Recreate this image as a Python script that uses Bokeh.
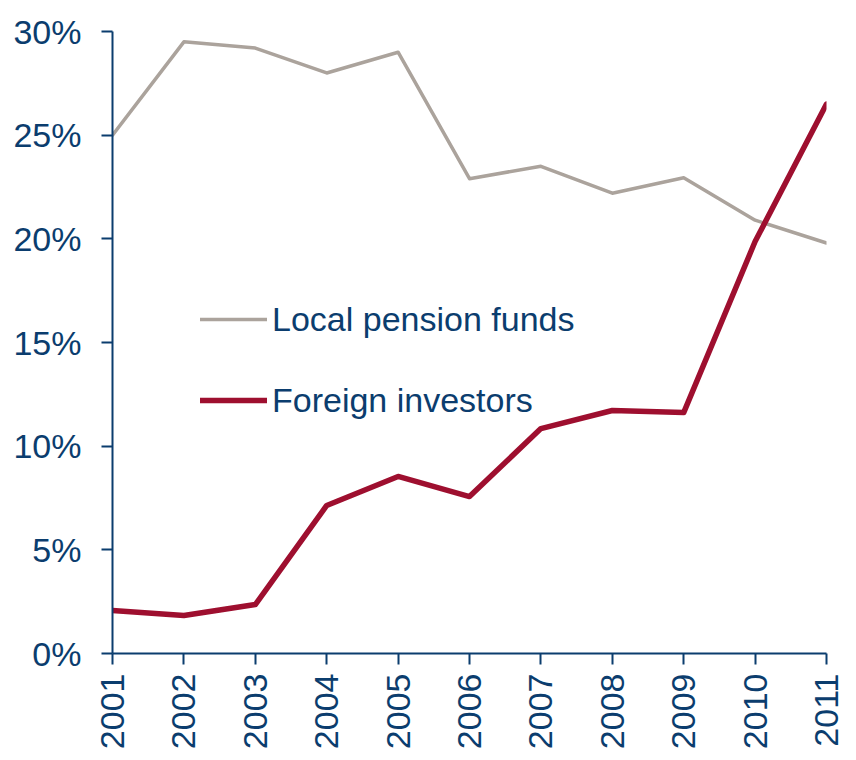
import math
from bokeh.plotting import figure
from bokeh.models import Legend, LegendItem, FixedTicker, Range1d
from bokeh.embed import file_html
from bokeh.resources import INLINE

years = [2001, 2002, 2003, 2004, 2005, 2006, 2007, 2008, 2009, 2010, 2011]
local_pension = [25.0, 29.5, 29.2, 28.0, 29.0, 22.9, 23.5, 22.2, 22.95, 20.9, 19.8]
foreign_investors = [2.07, 1.83, 2.36, 7.14, 8.54, 7.57, 10.85, 11.72, 11.62, 19.87, 26.5]
y_ticks = [0, 5, 10, 15, 20, 25, 30]

NAVY = "#0B3D6E"
GRAY = "#ABA39C"
RED = "#9E0F2F"
FONT = "Liberation Sans"

W, H = 848, 752
p = figure(width=W, height=H, output_backend="svg", toolbar_location=None,
           x_range=Range1d(2001, 2011), y_range=Range1d(0, 30),
           min_border_left=112, min_border_right=W - 826,
           min_border_top=31, min_border_bottom=H - 653)
p.outline_line_color = None
p.grid.grid_line_color = None
p.background_fill_color = "white"
p.border_fill_color = "white"

r1 = p.line(years, local_pension, line_color=GRAY, line_width=3.5, line_join="round", line_cap="round")
r2 = p.line(years, foreign_investors, line_color=RED, line_width=5.5, line_join="round", line_cap="round")

for ax in (p.xaxis[0], p.yaxis[0]):
    ax.axis_line_color = NAVY
    ax.axis_line_width = 2
    ax.major_tick_line_color = NAVY
    ax.major_tick_line_width = 2
    ax.major_tick_in = 0
    ax.major_tick_out = 11
    ax.minor_tick_line_color = None
    ax.major_label_text_color = NAVY
    ax.major_label_text_font = FONT
    ax.major_label_text_font_size = "34px"

p.xaxis[0].ticker = FixedTicker(ticks=years)
p.xaxis[0].major_label_orientation = math.pi / 2
p.xaxis[0].major_label_standoff = 9
p.yaxis[0].ticker = FixedTicker(ticks=y_ticks)
p.yaxis[0].major_label_overrides = {t: f"{t}%" for t in y_ticks}
p.yaxis[0].major_label_standoff = 20

legend = Legend(items=[LegendItem(label="Local pension funds", renderers=[r1]),
                       LegendItem(label="Foreign investors", renderers=[r2])],
                location=(88, 233), orientation="vertical",
                glyph_width=67, glyph_height=40, label_height=40, label_standoff=5,
                spacing=41, padding=0, margin=0,
                border_line_alpha=0, background_fill_alpha=0,
                label_text_font=FONT, label_text_font_size="34px", label_text_color=NAVY)
p.add_layout(legend)

open("out.html", "w").write(file_html(p, INLINE))
